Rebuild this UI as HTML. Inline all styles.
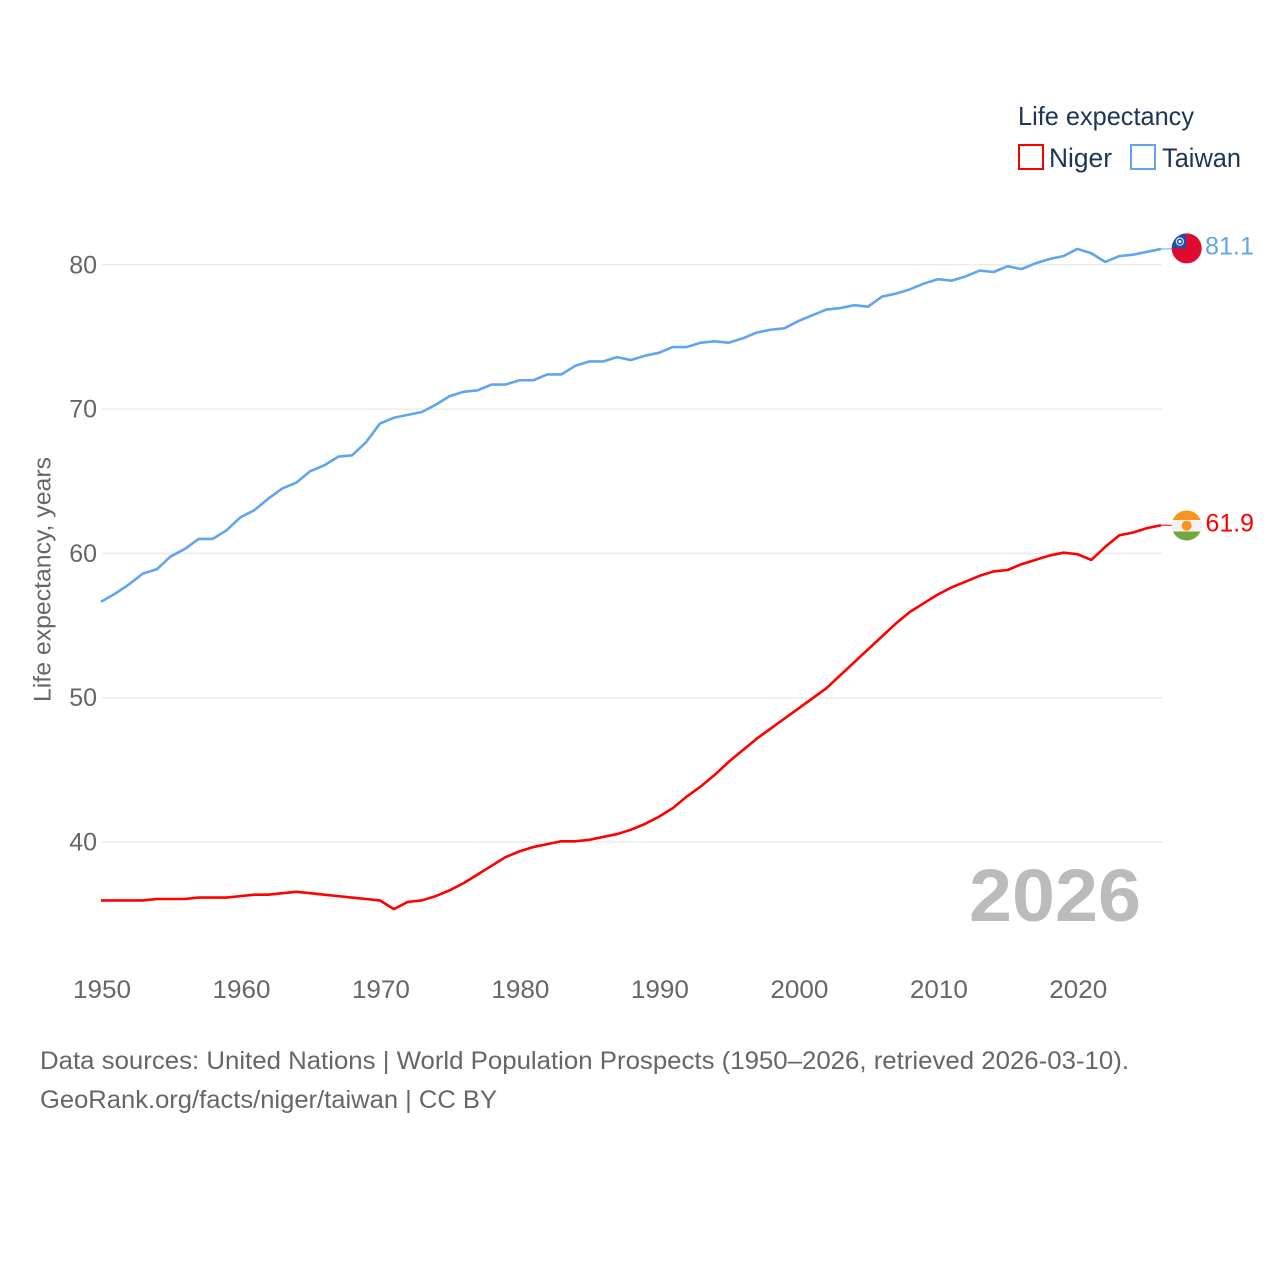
<!DOCTYPE html>
<html lang="en">
<head>
<meta charset="utf-8">
<title>Life expectancy: Niger and Taiwan</title>
<style>
html,body{margin:0;padding:0;background:#fff;}
svg{display:block;font-family:"Liberation Sans",Arial,sans-serif;}
</style>
</head>
<body>
<svg id="chart" xmlns="http://www.w3.org/2000/svg" width="1280" height="1280" viewBox="0 0 1280 1280">
  <defs>
    <clipPath id="clip-taiwan"><circle cx="1186.7" cy="248.4" r="15"/></clipPath>
    <clipPath id="clip-niger"><circle cx="1186.7" cy="525.5" r="15"/></clipPath>
  </defs>
  <rect width="1280" height="1280" fill="#fff"/>
  <g id="grid"></g>
  <g id="yticks"></g>
  <g id="xticks"></g>
  <text transform="translate(50.5,702) rotate(-90)" font-size="24.5" fill="#666" textLength="245" lengthAdjust="spacingAndGlyphs">Life expectancy, years</text>
  <text x="969" y="921" font-size="74" font-weight="700" fill="#bbb" textLength="172" lengthAdjust="spacingAndGlyphs">2026</text>
  <g id="series"></g>

  <g clip-path="url(#clip-taiwan)">
    <rect x="1171" y="232" width="32" height="33" fill="#de0a2f"/>
    <rect x="1171" y="232" width="15" height="16.2" fill="#1d4fb0"/>
    <circle cx="1179.9" cy="241.6" r="3.6" fill="none" stroke="#cfe0f5" stroke-width="1.2"/>
    <circle cx="1179.9" cy="241.6" r="1.5" fill="#fff"/>
  </g>
  <g clip-path="url(#clip-niger)">
    <rect x="1171" y="510" width="32" height="10" fill="#f7941e"/>
    <rect x="1171" y="520" width="32" height="12" fill="#f2f2f2"/>
    <rect x="1171" y="531.5" width="32" height="10" fill="#72a83f"/>
    <circle cx="1186.7" cy="525.7" r="5" fill="#f7941e"/>
  </g>
  <text x="1205" y="254.5" font-size="25" fill="#60a5ee" textLength="49" lengthAdjust="spacingAndGlyphs">81.1</text>
  <text x="1205.5" y="531.5" font-size="25" fill="#ff0000" textLength="48.5" lengthAdjust="spacingAndGlyphs">61.9</text>

  <g>
    <text x="1018" y="125" font-size="26" fill="#1d3557" textLength="176" lengthAdjust="spacingAndGlyphs">Life expectancy</text>
    <g>
      <rect x="1019" y="145" width="24" height="24" fill="#fff" stroke="#ff0000" stroke-width="2"/>
      <text x="1049" y="167" font-size="26.5" fill="#1d3557" textLength="63" lengthAdjust="spacingAndGlyphs">Niger</text>
    </g>
    <g>
      <rect x="1131" y="145" width="24" height="24" fill="#fff" stroke="#60a5ee" stroke-width="2"/>
      <text x="1162" y="167" font-size="26.5" fill="#1d3557" textLength="79" lengthAdjust="spacingAndGlyphs">Taiwan</text>
    </g>
  </g>

  <text x="40" y="1069" font-size="25" fill="#666" textLength="1089" lengthAdjust="spacingAndGlyphs">Data sources: United Nations | World Population Prospects (1950–2026, retrieved 2026-03-10).</text>
  <text x="40" y="1108" font-size="25" fill="#666" textLength="457" lengthAdjust="spacingAndGlyphs">GeoRank.org/facts/niger/taiwan | CC BY</text>
</svg>
<script>
const years = [1950,1951,1952,1953,1954,1955,1956,1957,1958,1959,1960,1961,1962,1963,1964,1965,1966,1967,1968,1969,1970,1971,1972,1973,1974,1975,1976,1977,1978,1979,1980,1981,1982,1983,1984,1985,1986,1987,1988,1989,1990,1991,1992,1993,1994,1995,1996,1997,1998,1999,2000,2001,2002,2003,2004,2005,2006,2007,2008,2009,2010,2011,2012,2013,2014,2015,2016,2017,2018,2019,2020,2021,2022,2023,2024,2025,2026];
const nigerValues = [35.95,35.95,35.95,35.95,36.05,36.05,36.05,36.15,36.15,36.15,36.25,36.35,36.35,36.45,36.55,36.45,36.35,36.25,36.15,36.05,35.95,35.35,35.85,35.95,36.25,36.65,37.15,37.75,38.35,38.95,39.35,39.65,39.85,40.05,40.05,40.15,40.35,40.55,40.85,41.25,41.75,42.35,43.15,43.85,44.65,45.55,46.35,47.15,47.85,48.55,49.25,49.95,50.65,51.55,52.45,53.35,54.25,55.15,55.95,56.55,57.15,57.65,58.05,58.45,58.75,58.85,59.25,59.55,59.85,60.05,59.95,59.55,60.45,61.25,61.45,61.75,61.95];
const taiwanValues = [56.65,57.2,57.85,58.6,58.9,59.8,60.3,61.0,61.0,61.6,62.5,63.0,63.8,64.5,64.9,65.7,66.1,66.7,66.8,67.7,69.0,69.4,69.6,69.8,70.3,70.9,71.2,71.3,71.7,71.7,72.0,72.0,72.4,72.4,73.0,73.3,73.3,73.6,73.4,73.7,73.9,74.3,74.3,74.6,74.7,74.6,74.9,75.3,75.5,75.6,76.1,76.5,76.9,77.0,77.2,77.1,77.8,78.0,78.3,78.7,79.0,78.9,79.2,79.6,79.5,79.9,79.7,80.1,80.4,80.6,81.1,80.8,80.2,80.6,80.7,80.9,81.1];
const yTickValues = [40,50,60,70,80];
const xTickValues = [1950,1960,1970,1980,1990,2000,2010,2020];

const NS = 'http://www.w3.org/2000/svg';
function xScale(year){ return 101 + (year - 1950) * (1161 - 101) / (2026 - 1950); }
function yScale(value){ return 842 - (value - 40) * 14.43; }
function make(tag, attrs, parent){
  const el = document.createElementNS(NS, tag);
  for (const k in attrs) el.setAttribute(k, attrs[k]);
  parent.appendChild(el);
  return el;
}

const gridGroup = document.getElementById('grid');
const yGroup = document.getElementById('yticks');
const xGroup = document.getElementById('xticks');
const seriesGroup = document.getElementById('series');

yTickValues.forEach(function(v){
  const line = make('line', {x1:102, x2:1162, y1:yScale(v), y2:yScale(v), stroke:'#ebebeb', 'stroke-width':1.5}, gridGroup);
  
  
  const label = make('text', {x:97, y:yScale(v)+8.5, 'text-anchor':'end', 'font-size':25, fill:'#666'}, yGroup);
  
  
  label.textContent = String(v);
});

xTickValues.forEach(function(y){
  const label = make('text', {x:xScale(y)+1, y:998, 'text-anchor':'middle', 'font-size':25, fill:'#666', textLength:58, lengthAdjust:'spacingAndGlyphs'}, xGroup);
  
  
  label.textContent = String(y);
});

function pathFor(values){
  return values.map(function(v, i){
    return (i ? 'L' : 'M') + xScale(years[i]).toFixed(2) + ' ' + yScale(v).toFixed(2);
  }).join(' ');
}

const nigerLine = make('path', {d:pathFor(nigerValues), fill:'none', stroke:'#ff0000', 'stroke-width':2.6, 'stroke-linejoin':'round'}, seriesGroup);



const taiwanLine = make('path', {d:pathFor(taiwanValues), fill:'none', stroke:'#60a5ee', 'stroke-width':2.6, 'stroke-linejoin':'round'}, seriesGroup);



const nigerEnd = yScale(nigerValues[nigerValues.length - 1]);
const nigerConnector = make('line', {x1:1161, x2:1172, y1:nigerEnd, y2:nigerEnd, stroke:'#ff0000', 'stroke-width':1}, seriesGroup);



const taiwanEnd = yScale(taiwanValues[taiwanValues.length - 1]);
const taiwanConnector = make('line', {x1:1161, x2:1172, y1:taiwanEnd, y2:taiwanEnd, stroke:'#60a5ee', 'stroke-width':1}, seriesGroup);


</script>
</body>
</html>
